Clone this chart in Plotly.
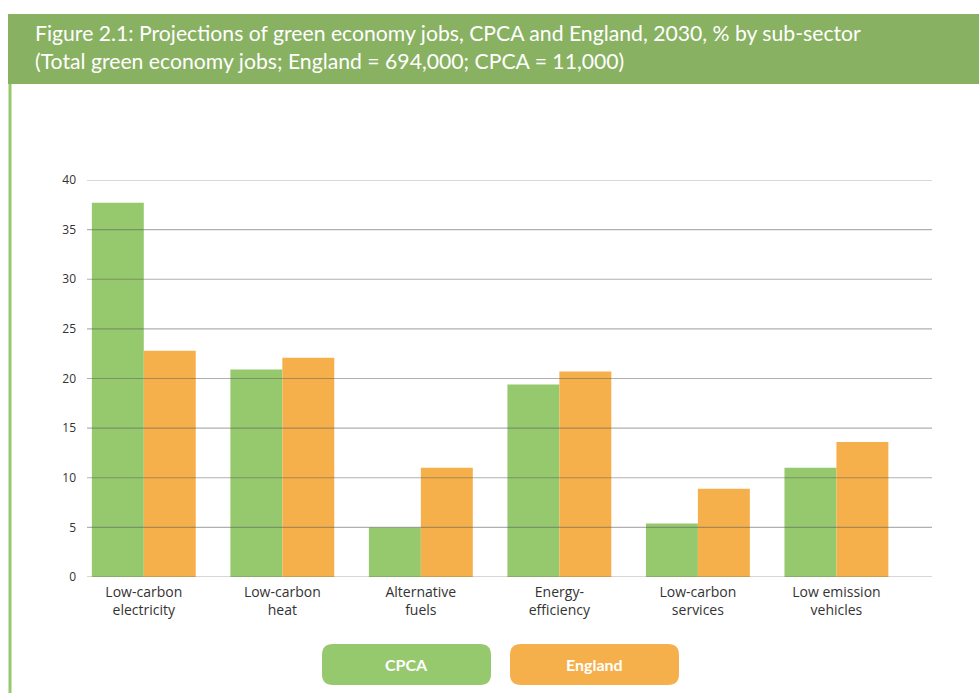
import plotly.graph_objects as go

# Sub-sectors and projected share of green economy jobs (%), 2030
categories = [
    "Low-carbon<br>electricity",
    "Low-carbon<br>heat",
    "Alternative<br>fuels",
    "Energy-<br>efficiency",
    "Low-carbon<br>services",
    "Low emission<br>vehicles",
]
cpca = [37.7, 20.9, 5.0, 19.4, 5.4, 11.0]
england = [22.8, 22.1, 11.0, 20.7, 8.9, 13.6]
y_ticks = [0, 5, 10, 15, 20, 25, 30, 35, 40]

series = [("CPCA", cpca, "#96C96E"), ("England", england, "#F5B04B")]

W, H = 979, 693
L, R, T, B = 87, 47, 180, 116
PW, PH = W - L - R, H - T - B


def px_x(px):
    return (px - L) / PW


def px_y(py):
    return (H - B - py) / PH


fig = go.Figure()
for name, vals, col in series:
    fig.add_trace(go.Bar(x=categories, y=vals, name=name, marker=dict(color=col, line=dict(width=0))))

shapes = []
# title banner
shapes.append(dict(type="rect", xref="paper", yref="paper", x0=px_x(8), x1=px_x(W + 2),
                   y0=px_y(84), y1=px_y(14), fillcolor="#89B162", line=dict(width=0), layer="below"))
# left frame line
shapes.append(dict(type="line", xref="paper", yref="paper", x0=px_x(10), x1=px_x(10),
                   y0=px_y(84), y1=px_y(H + 2), line=dict(color="#96C96E", width=3)))
# gridlines drawn over the bars
for t in y_ticks:
    shapes.append(dict(type="line", xref="paper", yref="y", x0=0, x1=1, y0=t, y1=t,
                       line=dict(color="rgba(90,90,90,0.48)", width=1.2), layer="above"))


def pill(x0, x1, y0, y1, r=11):
    rx, ry = r / PW, r / PH
    X0, X1, Y0, Y1 = px_x(x0), px_x(x1), px_y(y1), px_y(y0)
    return (f"M{X0+rx},{Y0} L{X1-rx},{Y0} Q{X1},{Y0} {X1},{Y0+ry} L{X1},{Y1-ry} "
            f"Q{X1},{Y1} {X1-rx},{Y1} L{X0+rx},{Y1} Q{X0},{Y1} {X0},{Y1-ry} "
            f"L{X0},{Y0+ry} Q{X0},{Y0} {X0+rx},{Y0} Z")


annotations = [
    dict(xref="paper", yref="paper", x=px_x(33), y=px_y(47), xanchor="left", yanchor="middle",
         align="left", showarrow=False,
         text="Figure 2.1: Projections of green economy jobs, CPCA and England, 2030, % by sub-sector<br>"
              "(Total green economy jobs; England = 694,000; CPCA = 11,000)",
         font=dict(family="Lato", size=21.2, color="white")),
]

# legend pills
legend_boxes = [(322, 491), (510, 679)]
for (name, _, col), (x0, x1) in zip(series, legend_boxes):
    shapes.append(dict(type="path", xref="paper", yref="paper", path=pill(x0, x1, 644, 685),
                       fillcolor=col, line=dict(width=0)))
    annotations.append(dict(xref="paper", yref="paper", x=px_x((x0 + x1) / 2), y=px_y(664),
                            xanchor="center", yanchor="middle", showarrow=False,
                            text=f"<b>{name}</b>", font=dict(family="Lato", size=16, color="white")))

fig.update_layout(
    width=W, height=H,
    margin=dict(l=L, r=R, t=T, b=B, pad=0),
    paper_bgcolor="white", plot_bgcolor="white",
    barmode="group", bargap=0.25, bargroupgap=0,
    showlegend=False,
    shapes=shapes, annotations=annotations,
    xaxis=dict(range=[-0.41, 5.69], showgrid=False, showline=False, ticks="",
               ticklabelstandoff=5,
               tickfont=dict(family="Open Sans", size=14, color="#333333")),
    yaxis=dict(range=[0, 40], tickvals=y_ticks, showgrid=False, zeroline=False, showline=False,
               ticks="", ticklabelstandoff=10,
               tickfont=dict(family="Open Sans", size=12, color="#333333")),
)

fig.write_html("out.html")
